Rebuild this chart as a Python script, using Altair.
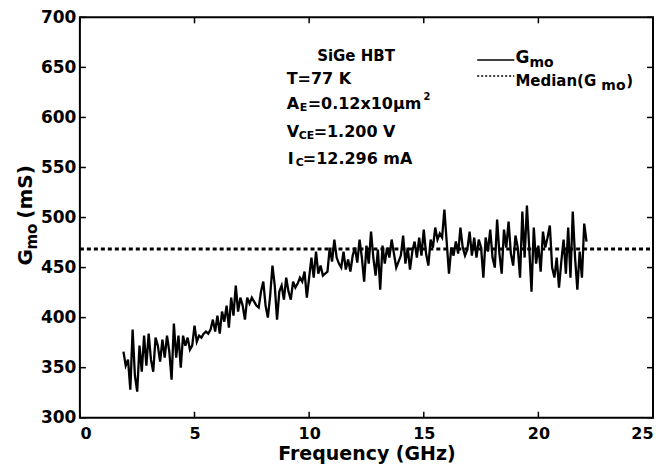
import altair as alt
import pandas as pd

freq = [1.9, 2.0, 2.1, 2.2, 2.3, 2.4, 2.5, 2.6, 2.7, 2.8, 2.9, 3.0, 3.1, 3.2, 3.3, 3.4, 3.5, 3.6, 3.7, 3.8, 3.9,
        4.0, 4.1, 4.2, 4.3, 4.4, 4.5, 4.6, 4.7, 4.8, 4.9, 5.0, 5.1, 5.2, 5.3, 5.4, 5.5, 5.6, 5.7, 5.8, 5.9,
        6.0, 6.1, 6.2, 6.3, 6.4, 6.5, 6.6, 6.7, 6.8, 6.9, 7.0, 7.1, 7.2, 7.3, 7.4, 7.5, 7.6, 7.7, 7.8, 7.9,
        8.0, 8.1, 8.2, 8.3, 8.4, 8.5, 8.6, 8.7, 8.8, 8.9, 9.0, 9.1, 9.2, 9.3, 9.4, 9.5, 9.6, 9.7, 9.8, 9.9,
        10.0, 10.1, 10.2, 10.3, 10.4, 10.5, 10.6, 10.7, 10.8, 10.9, 11.0, 11.1, 11.2, 11.3, 11.4, 11.5, 11.6, 11.7, 11.8, 11.9,
        12.0, 12.1, 12.2, 12.3, 12.4, 12.5, 12.6, 12.7, 12.8, 12.9, 13.0, 13.1, 13.2, 13.3, 13.4, 13.5, 13.6, 13.7, 13.8, 13.9,
        14.0, 14.1, 14.2, 14.3, 14.4, 14.5, 14.6, 14.7, 14.8, 14.9, 15.0, 15.1, 15.2, 15.3, 15.4, 15.5, 15.6, 15.7, 15.8, 15.9,
        16.0, 16.1, 16.2, 16.3, 16.4, 16.5, 16.6, 16.7, 16.8, 16.9, 17.0, 17.1, 17.2, 17.3, 17.4, 17.5, 17.6, 17.7, 17.8, 17.9,
        18.0, 18.1, 18.2, 18.3, 18.4, 18.5, 18.6, 18.7, 18.8, 18.9, 19.0, 19.1, 19.2, 19.3, 19.4, 19.5, 19.6, 19.7, 19.8, 19.9,
        20.0, 20.1, 20.2, 20.3, 20.4, 20.5, 20.6, 20.7, 20.8, 20.9, 21.0, 21.1, 21.2, 21.3, 21.4, 21.5, 21.6, 21.7, 21.8, 21.9,
        22.0, 22.1]

gmo = [366, 352, 358, 328, 388, 342, 326, 372, 346, 382, 352, 384, 358, 346, 380, 372, 356, 378, 360, 382, 366,
       338, 394, 360, 382, 350, 382, 372, 380, 368, 372, 392, 376, 382, 380, 384, 386, 384, 388, 398, 386,
       402, 384, 406, 396, 412, 390, 420, 402, 432, 406, 420, 412, 398, 420, 414, 420, 416, 412, 410, 426,
       436, 412, 400, 422, 452, 432, 398, 426, 432, 418, 440, 426, 418, 436, 430, 434, 440, 436, 446, 420,
       440, 460, 440, 466, 444, 452, 442, 444, 446, 470, 456, 478, 460, 454, 450, 466, 448, 458, 446, 462,
       470, 455, 478, 460, 436, 472, 454, 486, 460, 442, 468, 428, 472, 454, 470, 460, 478, 464, 450, 456,
       462, 482, 454, 470, 448, 466, 476, 460, 480, 462, 488, 464, 452, 478, 470, 490, 478, 484, 480, 508,
       476, 444, 470, 462, 476, 464, 490, 470, 462, 468, 486, 462, 480, 460, 478, 470, 440, 480, 466, 488,
       460, 450, 498, 464, 444, 488, 470, 496, 464, 452, 482, 470, 440, 506, 460, 512, 470, 426, 490, 454,
       472, 446, 486, 470, 480, 492, 450, 440, 460, 430, 456, 478, 444, 490, 440, 506, 460, 428, 466, 440,
       494, 476]

median_gmo = 468.5
x_ticks = [0, 5, 10, 15, 20, 25]
y_ticks = [300, 350, 400, 450, 500, 550, 600, 650, 700]

W, H = 574, 401
F = "DejaVu Sans"

xs = alt.Scale(domain=[0, 25], nice=False, zero=False)
ys = alt.Scale(domain=[300, 700], nice=False, zero=False)
xaxis = alt.Axis(values=x_ticks, grid=False, domain=False, ticks=False, labelFont=F, labelFontWeight="bold",
                 labelFontSize=16, labelColor="black", labelPadding=8, title="Frequency (GHz)",
                 titleFont=F, titleFontWeight="bold", titleFontSize=19, titleColor="black", titlePadding=3)
yaxis = alt.Axis(values=y_ticks, grid=False, domain=False, ticks=False, labelFont=F, labelFontWeight="bold",
                 labelFontSize=17, labelColor="black", labelPadding=4, title=None)


def X(f="x"):
    return alt.X(f"{f}:Q", scale=xs, axis=xaxis)


def Y(f="y"):
    return alt.Y(f"{f}:Q", scale=ys, axis=yaxis)


line_df = pd.DataFrame({"x": freq, "y": gmo})
line = alt.Chart(line_df).mark_line(color="black", strokeWidth=2.3).encode(x=X(), y=Y())

med_df = pd.DataFrame({"x": [0], "x2": [25], "y": [median_gmo]})
med = alt.Chart(med_df).mark_rule(color="black", strokeWidth=3, strokeDash=[4, 3]).encode(
    x=X(), x2="x2:Q", y=Y())

xt_df = pd.DataFrame({"x": x_ticks})
yt_df = pd.DataFrame({"y": y_ticks})
tick_style = dict(color="black", strokeWidth=1.5)
xt_bot = alt.Chart(xt_df).mark_rule(**tick_style).encode(x=X(), y=alt.value(H), y2=alt.value(H - 6))
xt_top = alt.Chart(xt_df).mark_rule(**tick_style).encode(x=X(), y=alt.value(0), y2=alt.value(6))
yt_l = alt.Chart(yt_df).mark_rule(**tick_style).encode(y=Y(), x=alt.value(0), x2=alt.value(6))
yt_r = alt.Chart(yt_df).mark_rule(**tick_style).encode(y=Y(), x=alt.value(W), x2=alt.value(W - 6))


def txt(x, y, s, size, dx=0, dy=0):
    df = pd.DataFrame({"x": [x], "y": [y], "t": [s]})
    return alt.Chart(df).mark_text(align="left", baseline="middle", dx=dx, dy=dy, fontSize=size, font=F,
                                   fontWeight="bold", color="black").encode(x=X(), y=Y(), text="t:N")


ax0 = 9.02
annots = [
    txt(10.35, 661, "SiGe HBT", 15),
    txt(ax0, 638, "T=77 K", 16),
    txt(ax0, 613, "A", 16),
    txt(ax0, 613, "E", 11, dx=13, dy=4),
    txt(ax0, 613, "=0.12x10\u03bcm", 16, dx=21),
    txt(ax0, 613, "2", 10, dx=137, dy=-7),
    txt(ax0, 585, "V", 16),
    txt(ax0, 585, "CE", 11, dx=12, dy=4),
    txt(ax0, 585, " =1.200 V", 16, dx=27),
    txt(ax0 + 0.05, 558, "I", 16),
    txt(ax0 + 0.05, 558, "C", 11, dx=8, dy=4),
    txt(ax0 + 0.05, 558, " =12.296 mA", 16, dx=15),
]

# legend
lg_x0, lg_x1, lg_tx = 17.33, 18.95, 19.0
lg1 = alt.Chart(pd.DataFrame({"x": [lg_x0], "x2": [lg_x1], "y": [657.5]})).mark_rule(
    color="black", strokeWidth=1.5).encode(x=X(), x2="x2:Q", y=Y())
lg2 = alt.Chart(pd.DataFrame({"x": [lg_x0], "x2": [lg_x1], "y": [641.5]})).mark_rule(
    color="black", strokeWidth=1.5, strokeDash=[2, 2]).encode(x=X(), x2="x2:Q", y=Y())
legend = [
    lg1, lg2,
    txt(lg_tx, 659, "G", 17),
    txt(lg_tx, 659, "mo", 14, dx=14, dy=5),
    txt(lg_tx, 636, "Median(G", 15),
    txt(lg_tx, 636, "mo", 14, dx=86, dy=5),
    txt(lg_tx, 636, ")", 15, dx=111),
]


# y-axis title with subscript
def ytitle(s, size, dx=0, dy=0):
    df = pd.DataFrame({"y": [452], "t": [s]})
    return alt.Chart(df).mark_text(align="left", baseline="alphabetic", angle=270, dx=dx, dy=dy, fontSize=size,
                                   font=F, fontWeight="bold", color="black").encode(
        x=alt.value(-48), y=Y(), text="t:N")


ytit = [ytitle("G", 20), ytitle("mo", 15, dx=16, dy=5), ytitle("(mS)", 20, dx=47)]

chart = alt.layer(line, med, xt_bot, xt_top, yt_l, yt_r, *annots, *legend, *ytit).properties(
    width=W, height=H,
    background="white",
    autosize=alt.AutoSizeParams(type="none"),
    padding={"left": 72, "top": 9, "right": 2, "bottom": 51},
).configure_view(stroke="black", strokeWidth=2)

chart.save("out.html", embed_options={"renderer": "svg", "actions": False})
